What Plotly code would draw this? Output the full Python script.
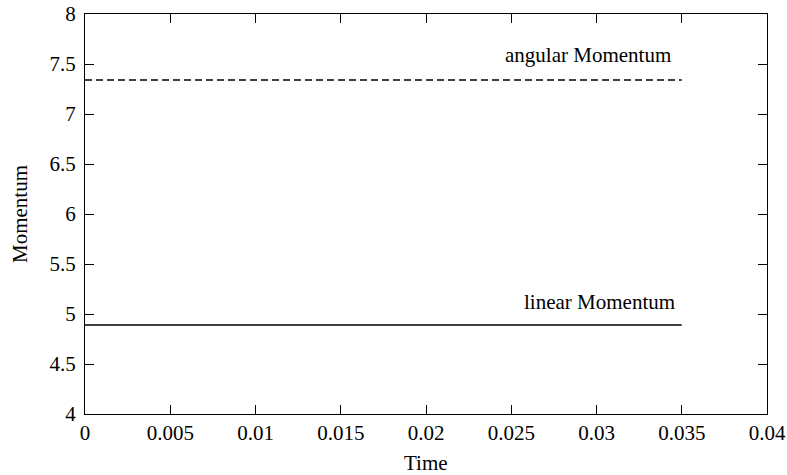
import plotly.graph_objects as go

time = [0.0, 0.005, 0.01, 0.015, 0.02, 0.025, 0.03, 0.035]
angular_momentum = [7.34, 7.34, 7.34, 7.34, 7.34, 7.34, 7.34, 7.34]
linear_momentum = [4.89, 4.89, 4.89, 4.89, 4.89, 4.89, 4.89, 4.89]
x_ticks = [0, 0.005, 0.01, 0.015, 0.02, 0.025, 0.03, 0.035, 0.04]
x_tick_text = ["0", "0.005", "0.01", "0.015", "0.02", "0.025", "0.03", "0.035", "0.04"]
y_ticks = [4, 4.5, 5, 5.5, 6, 6.5, 7, 7.5, 8]
y_tick_text = ["4", "4.5", "5", "5.5", "6", "6.5", "7", "7.5", "8"]

font = "Liberation Serif, Times New Roman, serif"
fsize = 21

fig = go.Figure()
fig.add_trace(go.Scatter(x=time, y=angular_momentum, mode="lines",
                         line=dict(color="black", width=1.5, dash="7px,4px"),
                         name="angular Momentum", showlegend=False))
fig.add_trace(go.Scatter(x=time, y=linear_momentum, mode="lines",
                         line=dict(color="black", width=1.5),
                         name="linear Momentum", showlegend=False))

fig.add_annotation(x=0.0345, y=7.59, text="angular Momentum", showarrow=False,
                   xanchor="right", yanchor="middle", font=dict(family=font, size=fsize, color="black"))
fig.add_annotation(x=0.0347, y=5.12, text="linear Momentum", showarrow=False,
                   xanchor="right", yanchor="middle", font=dict(family=font, size=fsize, color="black"))

# axis titles
fig.add_annotation(x=0.5, y=-0.1225, xref="paper", yref="paper", text="Time", showarrow=False,
                   xanchor="center", yanchor="middle", font=dict(family=font, size=fsize, color="black"))
fig.add_annotation(x=-0.0953, y=0.5, xref="paper", yref="paper", text="Momentum", showarrow=False,
                   textangle=-90, xanchor="center", yanchor="middle",
                   font=dict(family=font, size=fsize, color="black"))

axis_common = dict(showline=True, linecolor="black", linewidth=1, mirror="ticks",
                   ticks="inside", ticklen=9, tickcolor="black", tickwidth=1,
                   showgrid=False, zeroline=False, automargin=False,
                   tickfont=dict(family=font, size=fsize, color="black"))

fig.update_xaxes(range=[0, 0.04], tickvals=x_ticks, ticktext=x_tick_text, **axis_common)
fig.update_yaxes(range=[4, 8], tickvals=y_ticks, ticktext=y_tick_text,
                 ticklabelstandoff=4, **axis_common)

fig.update_layout(width=787, height=475, margin=dict(l=85, r=20, t=14, b=61),
                  paper_bgcolor="white", plot_bgcolor="white")

fig.write_html("out.html")
